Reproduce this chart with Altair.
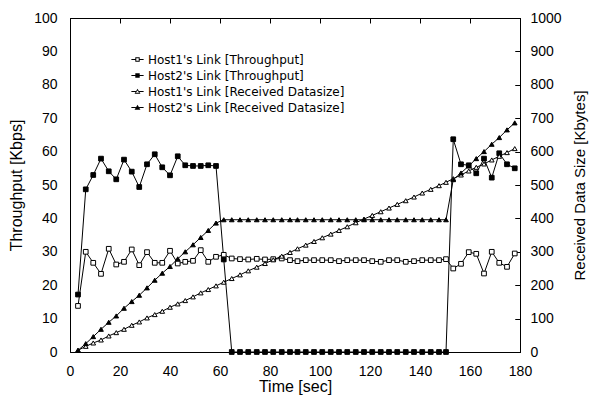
import altair as alt
import pandas as pd

# ---- data ----
time_sec = [3.2, 6.3, 9.3, 12.4, 15.5, 18.5, 21.6, 24.7, 27.7, 30.8, 33.9, 36.9, 40.0, 43.1, 46.1, 49.2, 52.3, 55.3, 58.4, 61.5,
            64.7, 68.0, 71.3, 74.7, 78.0, 81.3, 84.7, 88.0, 91.0, 94.3, 97.6, 100.9, 104.3, 107.6, 110.9, 114.3, 117.6, 120.9,
            124.3, 127.6, 130.9, 134.3, 137.6, 140.9, 144.3, 147.6, 150.4,
            153.3, 156.4, 159.5, 162.5, 165.6, 168.7, 171.7, 174.8, 177.9]

host1_thr = [13.8, 30.0, 26.7, 23.4, 30.9, 26.2, 27.0, 30.7, 26.0, 29.9, 26.7, 26.7, 30.3, 26.5, 27.0, 27.3, 30.5, 27.0, 28.5, 29.1,
             28.0, 27.8, 27.7, 27.9, 27.7, 27.8, 28.0, 27.5, 27.2, 27.5, 27.5, 27.5, 27.5, 27.2, 27.5, 27.5, 27.5, 27.2,
             27.0, 27.5, 27.5, 27.0, 27.2, 27.5, 27.5, 27.5, 27.8,
             25.0, 26.4, 29.9, 29.4, 23.5, 30.0, 26.7, 25.5, 29.5]

host2_thr = [17.2, 48.7, 53.0, 57.9, 54.1, 51.7, 57.6, 54.0, 49.4, 56.2, 59.2, 55.3, 52.9, 58.6, 55.9, 55.7, 55.7, 55.9, 55.7, 27.7,
             0, 0, 0, 0, 0, 0, 0, 0, 0, 0, 0, 0, 0, 0, 0, 0, 0, 0,
             0, 0, 0, 0, 0, 0, 0, 0, 0,
             63.7, 56.2, 55.9, 53.5, 57.9, 52.2, 59.5, 56.2, 55.0]

host1_ds = [5, 17, 27, 36, 48, 58, 68, 80, 90, 102, 112, 122, 134, 144, 154, 165, 177, 187, 198, 209,
            220, 231, 243, 254, 265, 276, 287, 298, 309, 320, 331, 342, 353, 364, 375, 387, 398, 409,
            420, 431, 442, 453, 464, 476, 487, 498, 508,
            519, 530, 542, 553, 563, 575, 586, 597, 609]

host2_ds = [5, 25, 46, 68, 89, 108, 131, 151, 170, 192, 215, 236, 256, 279, 300, 321, 343, 364, 386, 396,
            396, 396, 396, 396, 396, 396, 396, 396, 396, 396, 396, 396, 396, 396, 396, 396, 396, 396,
            396, 396, 396, 396, 396, 396, 396, 396, 396,
            516, 536, 557, 579, 600, 622, 642, 665, 686]

series_names = ["Host1's Link [Throughput]", "Host2's Link [Throughput]",
                "Host1's Link [Received Datasize]", "Host2's Link [Received Datasize]"]
x_ticks = [0, 20, 40, 60, 80, 100, 120, 140, 160, 180]
thr_ticks = [0, 10, 20, 30, 40, 50, 60, 70, 80, 90, 100]
ds_ticks = [0, 100, 200, 300, 400, 500, 600, 700, 800, 900, 1000]

# ---- tables ----
df = pd.DataFrame({"t": time_sec, "h1t": host1_thr, "h2t": host2_thr, "h1d": host1_ds, "h2d": host2_ds})
thr = df.melt(id_vars="t", value_vars=["h1t", "h2t"], var_name="s", value_name="v")
ds = df.melt(id_vars="t", value_vars=["h1d", "h2d"], var_name="s", value_name="v")
leg_df = pd.DataFrame({"name": series_names})

FONT = "Liberation Sans"
LEG_FONT = "DejaVu Sans"
xscale = alt.Scale(domain=[0, 180], nice=False, zero=False)
thr_scale = alt.Scale(domain=[0, 100], nice=False)
ds_scale = alt.Scale(domain=[0, 1000], nice=False)

DOM = dict(domain=True, domainColor="black", domainWidth=1)

x_lab_axis = alt.Axis(values=x_ticks, ticks=False, grid=False, labelPadding=12,
                      title="Time [sec]", titlePadding=0, labelFontSize=14, titleFontSize=16,
                      labelFont=FONT, titleFont=FONT, titleFontWeight="normal",
                      labelColor="black", titleColor="black", labelFlush=False, **DOM)
x_tick_axis = alt.Axis(values=x_ticks, domain=False, labels=False, ticks=True, tickSize=5, offset=-5,
                       grid=False, title=None, tickColor="black")
x_top_axis = alt.Axis(orient="top", values=x_ticks, labels=False, ticks=False, grid=False, title=None, **DOM)

thr_lab_axis = alt.Axis(values=thr_ticks, ticks=False, grid=False, labelPadding=13,
                        title="Throughput [Kbps]", titlePadding=9, labelFontSize=14, titleFontSize=16,
                        labelFont=FONT, titleFont=FONT, titleFontWeight="normal",
                        labelColor="black", titleColor="black", labelFlush=False, **DOM)
thr_tick_axis = alt.Axis(values=thr_ticks, domain=False, labels=False, ticks=True, tickSize=5, offset=-5,
                         grid=False, title=None, tickColor="black")

ds_lab_axis = alt.Axis(orient="right", values=ds_ticks, format="d", ticks=False, grid=False, labelPadding=10,
                       title="Received Data Size [Kbytes]", titlePadding=26, titleAngle=270, labelFontSize=14,
                       titleFontSize=15, labelFont=FONT, titleFont=FONT, titleFontWeight="normal",
                       labelColor="black", titleColor="black", labelFlush=False, **DOM)
ds_tick_axis = alt.Axis(orient="right", values=ds_ticks, domain=False, labels=False, ticks=True, tickSize=5,
                        offset=-5, grid=False, title=None, tickColor="black")

# ---- throughput group (left axis) ----
thr_base = alt.Chart(thr)
thr_line = thr_base.mark_line(color="black", strokeWidth=1).encode(
    x=alt.X("t:Q", scale=xscale, axis=x_lab_axis),
    y=alt.Y("v:Q", scale=thr_scale, axis=thr_lab_axis),
    detail="s:N")
thr_tk = thr_base.mark_line(opacity=0).encode(
    x=alt.X("t:Q", scale=xscale, axis=x_tick_axis),
    y=alt.Y("v:Q", scale=thr_scale, axis=thr_tick_axis),
    detail="s:N")
h1t_pts = thr_base.transform_filter(alt.datum.s == "h1t").mark_point(
    shape="square", filled=True, fill="white", stroke="black", strokeWidth=1, size=22, opacity=1).encode(
    x=alt.X("t:Q", scale=xscale, axis=None), y=alt.Y("v:Q", scale=thr_scale, axis=None))
h2t_pts = thr_base.transform_filter(alt.datum.s == "h2t").mark_point(
    shape="square", filled=True, fill="black", stroke="black", strokeWidth=1, size=22, opacity=1).encode(
    x=alt.X("t:Q", scale=xscale, axis=None), y=alt.Y("v:Q", scale=thr_scale, axis=None))

thr_group = alt.layer(thr_line, thr_tk, h1t_pts, h2t_pts).resolve_axis(x="independent", y="independent")

# ---- datasize group (right axis) ----
ds_base = alt.Chart(ds)
ds_line = ds_base.mark_line(color="black", strokeWidth=1).encode(
    x=alt.X("t:Q", scale=xscale, axis=x_top_axis),
    y=alt.Y("v:Q", scale=ds_scale, axis=ds_lab_axis),
    detail="s:N")
ds_tk = ds_base.mark_line(opacity=0).encode(
    x=alt.X("t:Q", scale=xscale, axis=None),
    y=alt.Y("v:Q", scale=ds_scale, axis=ds_tick_axis),
    detail="s:N")
h1d_pts = ds_base.transform_filter(alt.datum.s == "h1d").mark_point(
    shape="triangle-up", filled=True, fill="white", stroke="black", strokeWidth=1, size=22, opacity=1).encode(
    x=alt.X("t:Q", scale=xscale, axis=None), y=alt.Y("v:Q", scale=ds_scale, axis=None))
h2d_pts = ds_base.transform_filter(alt.datum.s == "h2d").mark_point(
    shape="triangle-up", filled=True, fill="black", stroke="black", strokeWidth=1, size=22, opacity=1).encode(
    x=alt.X("t:Q", scale=xscale, axis=None), y=alt.Y("v:Q", scale=ds_scale, axis=None))

# ---- legend: line + marker glyphs drawn purely as filled outlines ----
L_SQ = "M-1,-0.08H-0.36V0.08H-1ZM0.36,-0.08H1V0.08H0.36Z"
L_TR = "M-1,-0.08H-0.27V0.08H-1ZM0.27,-0.08H1V0.08H0.27Z"
SQ_OUT = "M-0.36,-0.36H0.36V0.36H-0.36Z"
SQ_IN = "M-0.2,-0.2V0.2H0.2V-0.2Z"
TR_OUT = "M0,-0.45L0.48,0.36H-0.48Z"
TR_IN = "M0,-0.16L-0.26,0.2H0.26Z"
sym_paths = [L_SQ + SQ_OUT + SQ_IN, L_SQ + SQ_OUT, L_TR + TR_OUT + TR_IN, L_TR + TR_OUT]

leg = alt.Legend(orient="none", legendX=61, legendY=35, title=None, symbolSize=150,
                 labelFontSize=12, labelFont=LEG_FONT, labelColor="black", rowPadding=3, labelOffset=4,
                 labelLimit=400, padding=0, symbolFillColor="black", symbolStrokeWidth=0,
                 symbolOpacity=1)
legend_layer = alt.Chart(leg_df).transform_filter("false").mark_point(
    filled=True, fill="black", strokeWidth=0, opacity=1).encode(
    shape=alt.Shape("name:N", scale=alt.Scale(domain=series_names, range=sym_paths), legend=leg))

ds_group = alt.layer(ds_line, ds_tk, h1d_pts, h2d_pts, legend_layer).resolve_axis(x="independent", y="independent")

chart = alt.layer(thr_group, ds_group).resolve_scale(y="independent").resolve_axis(
    x="independent", y="independent").properties(
    width=450, height=334, autosize="none",
    padding={"left": 70, "top": 18, "right": 73, "bottom": 45},
    background="white"
).configure_view(stroke="black", strokeWidth=1)

chart.save("out.html", embed_options={"renderer": "svg", "actions": False})
